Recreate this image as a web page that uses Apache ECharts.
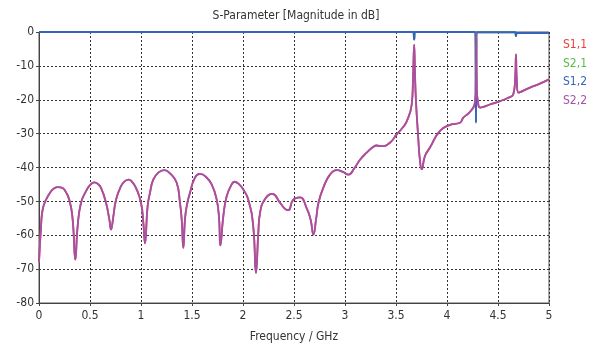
<!DOCTYPE html>
<html>
<head>
<meta charset="utf-8">
<script src="https://cdn.jsdelivr.net/npm/echarts@6/dist/echarts.min.js"></script>
<style>
  html, body { margin: 0; padding: 0; background: #fff; }
  #chart { width: 592px; height: 346px; }
</style>
</head>
<body>
<div id="chart"></div>
<script>
// Reflection magnitude (S2,2) in dB versus frequency in GHz
const reflFreq = [
  0, 0.02, 0.036, 0.069, 0.118, 0.15, 0.183, 0.215, 0.248, 0.297, 0.33, 0.356,
  0.379, 0.412, 0.461, 0.5, 0.542, 0.575, 0.608, 0.657, 0.69, 0.706,
  0.729, 0.755, 0.804, 0.84, 0.879, 0.915, 0.951, 1.0, 1.023, 1.039,
  1.065, 1.088, 1.12, 1.17, 1.229, 1.29, 1.35, 1.382, 1.399, 1.415,
  1.431, 1.448, 1.48, 1.529, 1.578, 1.635, 1.693, 1.742, 1.765, 1.778,
  1.807, 1.84, 1.889, 1.915, 1.96, 2.003, 2.052, 2.1, 2.127,
  2.15, 2.167, 2.216, 2.288, 2.363, 2.412, 2.444,
  2.493, 2.559, 2.624, 2.663, 2.69, 2.716, 2.74, 2.787, 2.853, 2.925, 2.98,
  3.033, 3.09, 3.147, 3.21, 3.278, 3.31, 3.36, 3.44, 3.507, 3.56, 3.605, 3.654,
  3.666, 3.678, 3.686, 3.695, 3.718, 3.735, 3.752, 3.784, 3.833, 3.931,
  4.03, 4.127, 4.16, 4.21, 4.258, 4.275, 4.282, 4.286, 4.292, 4.305, 4.324,
  4.42, 4.52, 4.6, 4.65, 4.668, 4.676, 4.684, 4.7, 4.814, 4.9, 5.0
];
const s22Db = [
  -68, -57.3, -52.4, -49.5, -47, -46.1, -45.8, -45.9, -46.5, -49.5, -55.4, -67.2,
  -57.3, -50.4, -47, -45.2, -44.4, -44.8, -46, -50.4, -55.4, -58.3,
  -54.4, -49.5, -45.5, -44.1, -43.6, -44.3, -46, -50.4, -56.3, -62.4,
  -51.4, -47.5, -43.6, -41.5, -40.8, -41.9, -44.5, -50.4, -55.4, -63.7,
  -55.4, -51.4, -47.5, -43, -41.9, -42.7, -45, -49.5, -54.9, -63,
  -54.4, -48.5, -45, -44.2, -44.9, -46.5, -49.5, -57.3, -71.1,
  -59.3, -53.4, -49.3, -47.8, -50.4, -52.2, -52.6,
  -49.5, -48.8, -52, -55.4, -59.8, -55.4, -50.4, -46, -42.1, -40.8, -41.3,
  -42.1, -40.3, -37.7, -35.7, -33.9, -33.5, -33.7, -32.7, -30.2, -28.4, -26.4, -21.4,
  -15, -3.7, -12, -20, -31.2, -38, -40.5, -36.6, -34.1, -29.2,
  -27.4, -26.8, -25.3, -24, -22.3, -20.5, -17.5, -0.3, -17, -21, -22.3,
  -21.4, -20.4, -19.4, -18.4, -14, -6.6, -14, -17.9, -16.4, -15.4, -14
];
// Reflection at port 1 coincides with port 2 (symmetric structure)
const s11Db = s22Db;

// Transmission magnitude (S1,2) in dB
const transFreq = [0, 3.67, 3.678, 3.686, 4.278, 4.284, 4.29, 4.668, 4.676, 4.684, 5.0];
const s12Db = [0, 0, -2.2, 0, 0, -26.8, -0.1, -0.1, -1.2, -0.3, -0.3];
// Transmission in the reverse direction coincides with S1,2
const s21Db = s12Db;

const seriesNames = ['S1,1', 'S2,1', 'S1,2', 'S2,2'];
const seriesColors = ['#e8413c', '#59b94a', '#3763bd', '#a450a8'];

const xTicks = { min: 0, max: 5, step: 0.5 };
const yTicks = { min: -80, max: 0, step: 10 };

function pairs(xs, ys) {
  return xs.map((x, i) => [x, ys[i]]);
}

const FONT = "'DejaVu Sans Condensed', 'DejaVu Sans', sans-serif";
const textColor = '#333';

const chart = echarts.init(document.getElementById('chart'), null, { renderer: 'canvas' });

const dataSets = [
  pairs(reflFreq, s11Db),
  pairs(transFreq, s21Db),
  pairs(transFreq, s12Db),
  pairs(reflFreq, s22Db)
];

const option = {
  animation: false,
  backgroundColor: '#fff',
  title: {
    text: 'S-Parameter [Magnitude in dB]',
    left: 'center',
    top: 5,
    textStyle: { fontFamily: FONT, fontSize: 12, fontWeight: 'normal', color: textColor }
  },
  legend: {
    orient: 'vertical',
    left: 553,
    top: 34,
    itemWidth: 0,
    itemHeight: 0,
    itemGap: 6.5,
    icon: 'rect',
    selectedMode: false,
    textStyle: { fontFamily: FONT, fontSize: 12 },
    data: seriesNames.map((n, i) => ({ name: n, textStyle: { color: seriesColors[i] } }))
  },
  grid: {
    left: 39, right: 43, top: 32, bottom: 43,
    containLabel: false,
    outerBoundsMode: 'none',
    show: true, borderColor: '#555', borderWidth: 1
  },
  xAxis: {
    type: 'value',
    min: xTicks.min,
    max: xTicks.max,
    interval: xTicks.step,
    name: 'Frequency / GHz',
    nameLocation: 'middle',
    nameGap: 28,
    nameTextStyle: { fontFamily: FONT, fontSize: 12, color: textColor },
    axisLine: { show: true, onZero: false, lineStyle: { color: '#444', width: 1 } },
    axisTick: { show: true, length: 3, lineStyle: { color: '#444' } },
    axisLabel: { fontFamily: FONT, fontSize: 12, color: textColor, margin: 7 },
    splitLine: { show: true, lineStyle: { color: '#333', type: [2, 2], width: 1 } }
  },
  yAxis: {
    type: 'value',
    min: yTicks.min,
    max: yTicks.max,
    interval: yTicks.step,
    axisLine: { show: true, onZero: false, lineStyle: { color: '#444', width: 1 } },
    axisTick: { show: true, length: 3, lineStyle: { color: '#444' } },
    axisLabel: { fontFamily: FONT, fontSize: 12, color: textColor, margin: 5 },
    splitLine: { show: true, lineStyle: { color: '#333', type: [2, 2], width: 1 } }
  },
  series: seriesNames.map((n, i) => ({
    name: n,
    type: 'line',
    data: dataSets[i],
    showSymbol: false,
    symbol: 'none',
    clip: false,
    smooth: 0.5,
    color: seriesColors[i],
    lineStyle: { color: seriesColors[i], width: (i === 2 || i === 1) ? 2 : 1.8 },
    emphasis: { disabled: true }
  }))
};

chart.setOption(option);
</script>
</body>
</html>
